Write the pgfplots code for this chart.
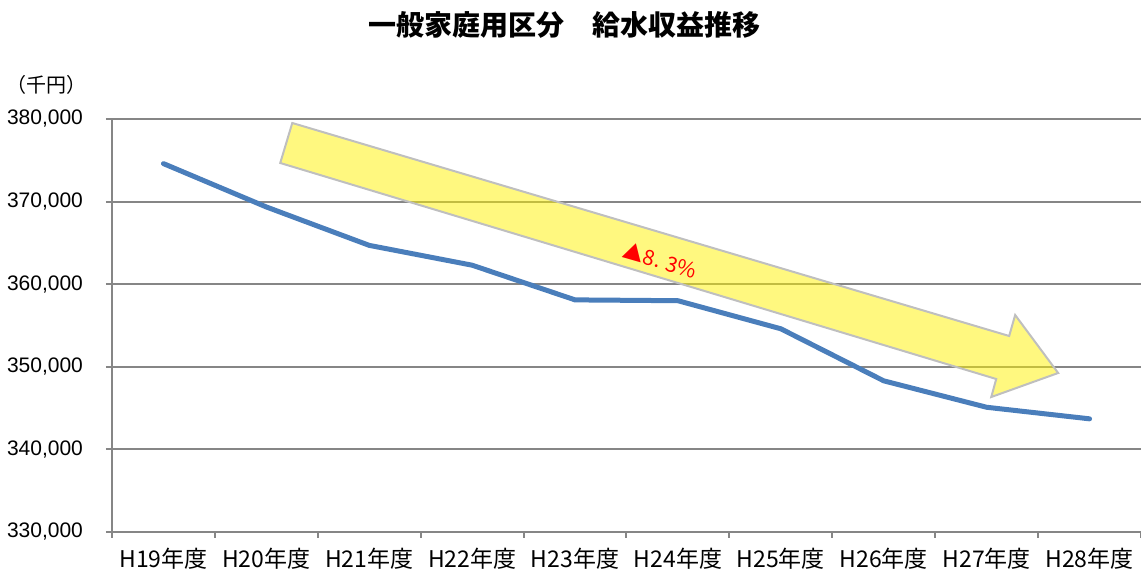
\documentclass[border=0pt]{standalone}
\usepackage{pgfplots}
\pgfplotsset{compat=1.18}
\usepackage{fontspec}
\setmainfont{Liberation Sans}
\newfontfamily\cjk{Noto Sans CJK JP}
\definecolor{gridgray}{HTML}{868686}
\definecolor{lineblue}{HTML}{4A7EBB}
\definecolor{arrowedge}{HTML}{BFBFBF}

% Revenue from water supply, general household category (thousand yen)
\pgfplotstableread{
idx value
0 374600
1 369350
2 364700
3 362300
4 358100
5 358000
6 354600
7 348300
8 345100
9 343700
}\revenue

\begin{document}
\begin{tikzpicture}
\useasboundingbox (0pt,0pt) rectangle (570.5pt,286pt);
\node[font=\cjk\bfseries\fontsize{14}{16}\selectfont] at (282pt,273.5pt) {一般家庭用区分　給水収益推移};
\node[font=\cjk\fontsize{10}{12}\selectfont, anchor=west, inner sep=0pt] at (3pt,243.5pt) {（千円）};
\begin{axis}[
  at={(56pt,20pt)}, anchor=south west,
  scale only axis, width=514.5pt, height=206.5pt,
  xmin=-0.5, xmax=9.5, ymin=330000, ymax=380000,
  axis x line*=bottom, axis y line*=left,
  axis line style={gridgray, line width=1.2pt},
  ymajorgrids, major grid style={gridgray, line width=1pt},
  xtick={0,...,9},
  xticklabels={H19年度,H20年度,H21年度,H22年度,H23年度,H24年度,H25年度,H26年度,H27年度,H28年度},
  xticklabel style={font=\cjk\fontsize{11.5}{13}\selectfont, yshift=-1.5pt},
  major x tick style={draw=none},
  minor xtick={-0.5,0.5,...,9.5},
  ytick={330000,340000,...,380000},
  tick align=outside, major tick length=3pt, minor tick length=3pt,
  tick style={gridgray, line width=1pt},
  yticklabel style={font=\fontsize{10.5}{12}\selectfont, xshift=-8pt,
    /pgf/number format/fixed, /pgf/number format/1000 sep={,},
    /pgf/number format/assume math mode=true},
  scaled y ticks=false,
  clip=false,
]
% trend arrow
\draw[arrowedge, line width=1pt, fill=yellow, fill opacity=0.5, line join=miter]
  (axis cs:1.252,379516) -- (axis cs:8.219,353728) -- (axis cs:8.277,356270)
  -- (axis cs:8.695,349248) -- (axis cs:8.045,346342) -- (axis cs:8.093,348522)
  -- (axis cs:1.135,374673) -- cycle;
\node[rotate=-16, text=red, font=\cjk\fontsize{10.5}{12}\selectfont, inner sep=0pt]
  at (axis cs:4.83,362930) {▲8. 3\%};
\addplot[lineblue, line width=2.5pt, line join=round, line cap=round] table[x=idx, y=value] {\revenue};
\end{axis}
\end{tikzpicture}
\end{document}
